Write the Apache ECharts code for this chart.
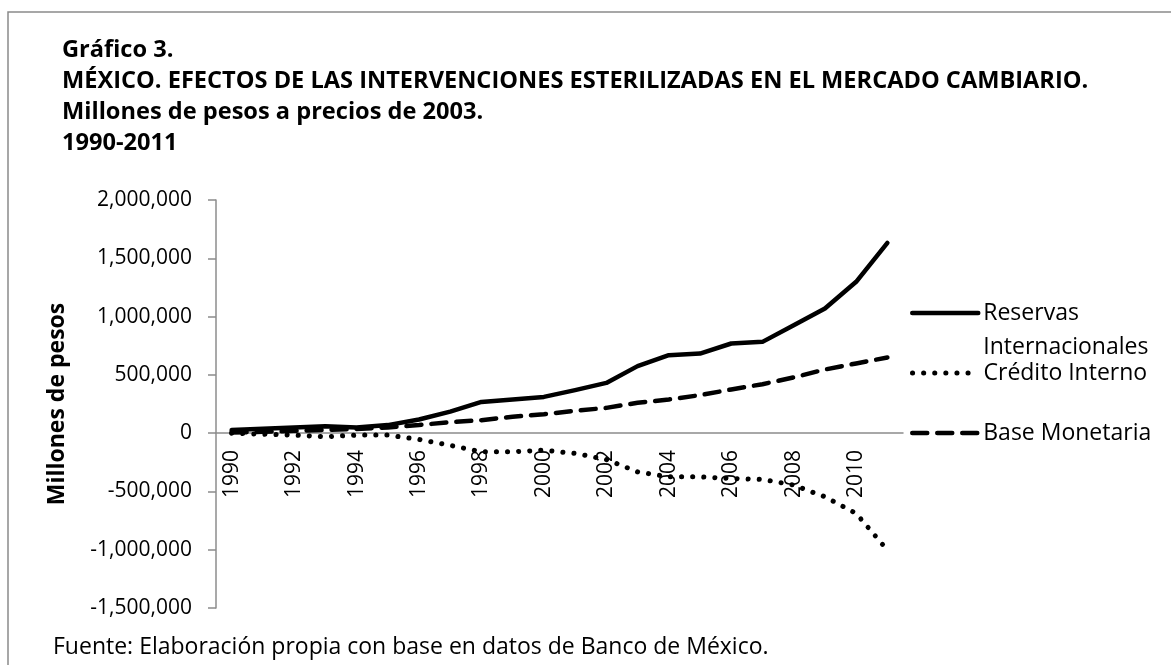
<!DOCTYPE html>
<html>
<head>
<meta charset="utf-8">
<script src="https://cdn.jsdelivr.net/npm/echarts@6/dist/echarts.min.js"></script>
<style>
    html, body { margin: 0; padding: 0; background: #fff; }
    #chart { width: 1171px; height: 665px; }
</style>
</head>
<body>
<div id="chart"></div>
<script>
var years = ['1990', '1991', '1992', '1993', '1994', '1995', '1996', '1997', '1998', '1999', '2000',
    '2001', '2002', '2003', '2004', '2005', '2006', '2007', '2008', '2009', '2010', '2011'];
var reservas = [26000, 37000, 48000, 60000, 49000, 69000, 117000, 185000, 268000, 289000, 311000,
    369000, 431000, 575000, 669000, 683000, 769000, 783000, 926000, 1069000, 1298000, 1632000];
var credito = [0, -9000, -17000, -31000, -17000, -17000, -54000, -105000, -160000, -160000, -146000,
    -174000, -226000, -332000, -375000, -375000, -389000, -397000, -446000, -546000, -689000, -1003000];
var baseMonetaria = [5000, 12000, 20000, 28000, 36000, 49000, 70000, 94000, 111000, 140000, 163000,
    191000, 217000, 260000, 289000, 326000, 375000, 420000, 478000, 546000, 598000, 649000];
var yTicks = { min: -1500000, max: 2000000, step: 500000 };

var FONT = '"Open Sans"';

function fmt(v) {
    return Number(v).toLocaleString('en-US');
}

// one legend block per series, so each can sit where Excel put it
function legendAt(name, top, lineStyle, extra) {
    var lg = {
        data: [name],
        left: 910, top: top,
        padding: 0,
        itemWidth: 66, itemHeight: 12,
        itemStyle: { color: 'rgba(0,0,0,0)', borderWidth: 0 },
        lineStyle: lineStyle,
        textStyle: { fontFamily: FONT, fontSize: 23, color: '#000', lineHeight: 24 }
    };
    for (var k in extra) lg[k] = extra[k];
    return lg;
}

var solidLine = { color: '#000', width: 4.5, type: 'solid', cap: 'round', join: 'round' };
var dotLine = { color: '#000', width: 5, type: [0.1, 11], cap: 'round' };
var dashLine = { color: '#000', width: 4.5, type: [15, 10], cap: 'round' };

var myChart = echarts.init(document.getElementById('chart'));
var option = {
    animation: false,
    textStyle: { fontFamily: FONT, color: '#000' },
    title: [
        {
            text: 'Gráfico 3.\nMÉXICO. EFECTOS DE LAS INTERVENCIONES ESTERILIZADAS EN EL MERCADO CAMBIARIO.\nMillones de pesos a precios de 2003.\n1990-2011',
            left: 62,
            top: 35,
            padding: 0,
            textStyle: { fontFamily: FONT, fontSize: 23.6, fontWeight: 'bold', lineHeight: 31, color: '#000' }
        },
        {
            text: 'Fuente: Elaboración propia con base en datos de Banco de México.',
            left: 53,
            top: 634,
            padding: 0,
            textStyle: { fontFamily: FONT, fontSize: 23, fontWeight: 'normal', lineHeight: 26, color: '#000' }
        }
    ],
    graphic: [{
        type: 'rect',
        shape: { x: 8, y: 12, width: 1300, height: 800 },
        style: { fill: 'none', stroke: '#8a8a8a', lineWidth: 1.5 },
        silent: true
    }],
    legend: [
        legendAt('Reservas Internacionales', 262, solidLine, {
            formatter: function () { return '\nReservas\nInternacionales'; },
            textStyle: { fontFamily: FONT, fontSize: 23, color: '#000', lineHeight: 34 }
        }),
        legendAt('Crédito Interno', 361, dotLine, {}),
        legendAt('Base Monetaria', 421, dashLine, {})
    ],
    grid: {
        left: 216,
        right: 268,
        top: 200,
        bottom: 57,
        containLabel: false,
        outerBoundsMode: 'none'
    },
    xAxis: {
        type: 'category',
        data: years,
        boundaryGap: true,
        position: 'bottom',
        // Excel crosses the category axis at zero: lift the whole axis (line + labels) there
        offset: -175,
        axisLine: { onZero: false, lineStyle: { color: '#8c8c8c', width: 1.5 } },
        axisTick: { show: false },
        axisLabel: {
            rotate: 90,
            interval: 1,
            margin: 17,
            fontFamily: FONT,
            fontSize: 21,
            color: '#000'
        },
        splitLine: { show: false }
    },
    yAxis: {
        type: 'value',
        min: yTicks.min,
        max: yTicks.max,
        interval: yTicks.step,
        name: 'Millones de pesos',
        nameLocation: 'middle',
        nameRotate: 90,
        nameGap: 147,
        nameTextStyle: { fontFamily: FONT, fontSize: 23, fontWeight: 'bold', color: '#000' },
        axisLine: { show: true, lineStyle: { color: '#8c8c8c', width: 1.5 } },
        axisTick: { show: true, inside: false, length: 8, lineStyle: { color: '#8c8c8c', width: 1.5 } },
        axisLabel: {
            margin: 24,
            fontFamily: FONT,
            fontSize: 21,
            color: '#000',
            formatter: fmt
        },
        splitLine: { show: false }
    },
    series: [
        {
            name: 'Reservas Internacionales',
            type: 'line',
            data: reservas,
            symbol: 'none',
            lineStyle: solidLine,
            itemStyle: { color: '#000' },
            z: 3
        },
        {
            name: 'Crédito Interno',
            type: 'line',
            data: credito,
            symbol: 'none',
            lineStyle: dotLine,
            itemStyle: { color: '#000' },
            z: 2
        },
        {
            name: 'Base Monetaria',
            type: 'line',
            data: baseMonetaria,
            symbol: 'none',
            lineStyle: dashLine,
            itemStyle: { color: '#000' },
            z: 2
        }
    ]
};
myChart.setOption(option);
</script>
</body>
</html>
